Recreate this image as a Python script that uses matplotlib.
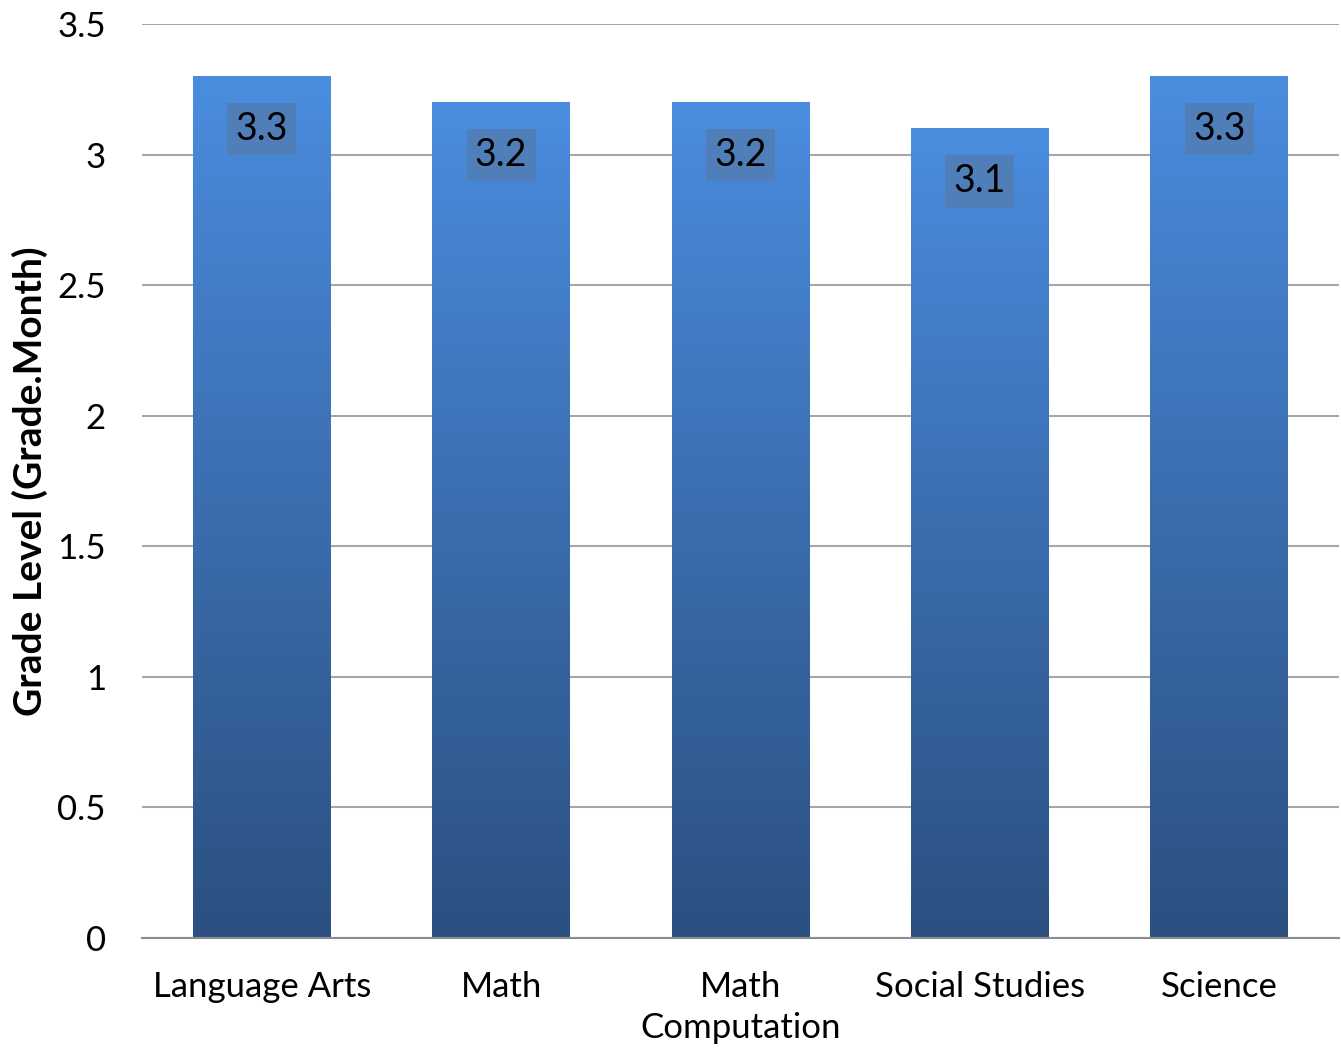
import numpy as np
import matplotlib.pyplot as plt
from matplotlib.colors import LinearSegmentedColormap

plt.rcParams['font.family'] = ['Lato', 'DejaVu Sans']

subjects = ['Language Arts', 'Math', 'Math\nComputation', 'Social Studies', 'Science']
grade_level = [3.3, 3.2, 3.2, 3.1, 3.3]
label_text = ['3.3', '3.2', '3.2', '3.1', '3.3']
y_ticks = [0, 0.5, 1, 1.5, 2, 2.5, 3, 3.5]
y_tick_labels = ['0', '0.5', '1', '1.5', '2', '2.5', '3', '3.5']

fig = plt.figure(figsize=(13.41, 10.48), dpi=100)
ax = fig.add_axes([0.1059, 0.105, 0.8926, 0.872])

# vertical gradient for the bars, dark at bottom, light at top
grad = LinearSegmentedColormap.from_list('bar', ['#2B5081', '#3B6DAE', '#4A8DDF'])
bar_w = 0.576
x = np.arange(len(subjects))
bars = ax.bar(x, grade_level, width=bar_w, color='none', zorder=2)
gradient = np.linspace(0, 1, 256).reshape(-1, 1)
for b in bars:
    bx, by = b.get_x(), b.get_y()
    ax.imshow(gradient, cmap=grad, origin='lower', aspect='auto',
              extent=[bx, bx + b.get_width(), by, by + b.get_height()], zorder=2)

for xi, val, txt in zip(x, grade_level, label_text):
    ax.annotate(txt, xy=(xi, val), xytext=(0, -38), textcoords='offset points',
                ha='center', va='center', fontsize=27, color='black', zorder=4,
                bbox=dict(boxstyle='square,pad=0.22', facecolor='#4F7EB8', edgecolor='none'))

ax.set_xlim(-0.5, len(subjects) - 0.5)
ax.set_ylim(0, 3.5)
ax.set_yticks(y_ticks)
ax.set_yticklabels(y_tick_labels)
ax.set_xticks(x)
ax.set_xticklabels(subjects, linespacing=1.35)
ax.tick_params(axis='both', length=0, labelsize=25)
ax.tick_params(axis='y', pad=26)
ax.tick_params(axis='x', pad=24)
ax.grid(axis='y', color='#A6A6A6', linewidth=1.5, zorder=0)
ax.set_axisbelow(True)
for s in ['top', 'right', 'left']:
    ax.spines[s].set_visible(False)
ax.spines['bottom'].set_color('#8C8C8C')
ax.spines['bottom'].set_linewidth(1.5)

ax.set_ylabel('Grade Level (Grade.Month)', fontsize=28, fontweight='bold', labelpad=7)

fig.savefig('out.png', dpi=100)
